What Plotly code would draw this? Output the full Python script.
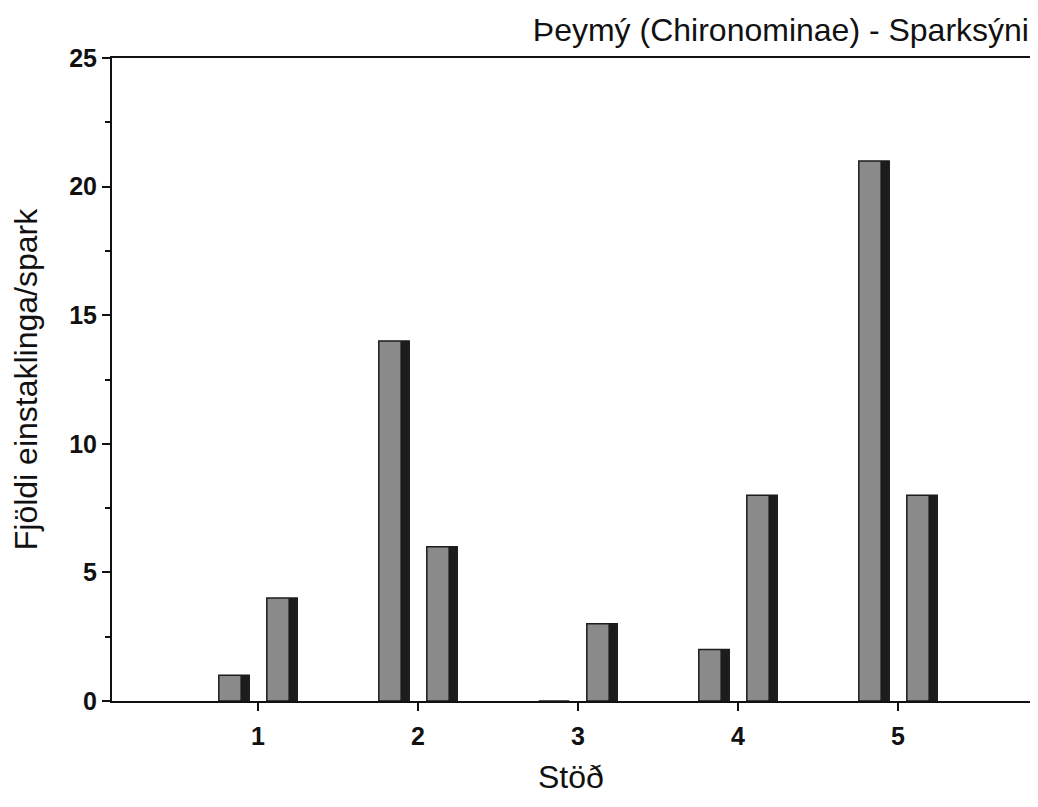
import plotly.graph_objects as go

stations = [1, 2, 3, 4, 5]
series_a = [1, 14, 0, 2, 21]
series_b = [4, 6, 3, 8, 8]
y_ticks = [0, 5, 10, 15, 20, 25]

title = "Þeymý (Chironominae) - Sparksýni"
x_title = "Stöð"
y_title = "Fjöldi einstaklinga/spark"

FONT = "Arial, Liberation Sans, sans-serif"
FILL = "#8a8a8a"
DARK = "#1c1c1c"
BAR_W = 0.19
SHADOW_W = 0.055

fig = go.Figure()
for vals, off in [(series_a, -0.245), (series_b, 0.055)]:
    fig.add_trace(go.Bar(
        x=stations, y=vals, width=BAR_W, offset=off,
        marker=dict(color=FILL, line=dict(color=DARK, width=1.5)),
        showlegend=False, hoverinfo="skip"))
    fig.add_trace(go.Bar(
        x=stations, y=vals, width=SHADOW_W, offset=off + BAR_W - SHADOW_W,
        marker=dict(color=DARK, line=dict(width=0)),
        showlegend=False, hoverinfo="skip"))

fig.update_layout(
    width=1022, height=791,
    margin=dict(l=104, r=0, t=50, b=98),
    paper_bgcolor="white", plot_bgcolor="white",
    barmode="overlay",
    font=dict(family=FONT, color="#111"),
    title=dict(text=title, x=0.999, xanchor="right", y=0.973, yanchor="middle",
               font=dict(size=32, family=FONT, color="#111")),
    xaxis=dict(
        range=[0.0875, 5.825], tickvals=stations, ticktext=[str(s) for s in stations],
        showline=True, linecolor="#111", linewidth=2, mirror=True,
        ticks="outside", ticklen=8, tickwidth=1.5, tickcolor="#111",
        showgrid=False, zeroline=False, automargin=False,
        tickfont=dict(size=25, family=FONT, weight="bold"),
        ticklabelstandoff=4,
    ),
    yaxis=dict(
        range=[0, 25], tickvals=y_ticks,
        showline=True, linecolor="#111", linewidth=2,
        ticks="outside", ticklen=8, tickwidth=1.5, tickcolor="#111",
        minor=dict(dtick=2.5, ticks="outside", ticklen=5, tickwidth=1.5, tickcolor="#111", showgrid=False),
        showgrid=False, zeroline=False, automargin=False,
        tickfont=dict(size=25, family=FONT, weight="bold"),
        ticklabelstandoff=0,
        title=dict(text=y_title, font=dict(size=32, family=FONT), standoff=27),
    ),
    annotations=[dict(
        text=x_title, xref="paper", yref="paper", x=0.5, y=-0.150,
        xanchor="center", yanchor="bottom", showarrow=False,
        font=dict(size=32, family=FONT, color="#111"),
    )],
)

fig.write_html("out.html")
